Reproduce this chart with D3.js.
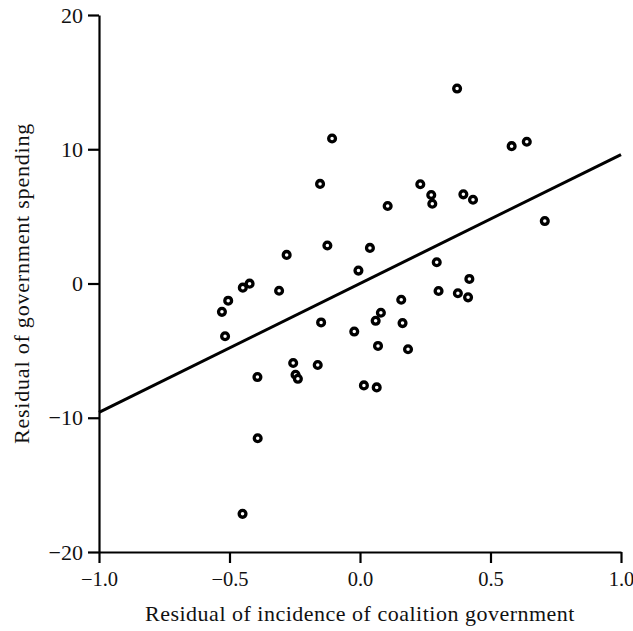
<!DOCTYPE html>
<html>
<head>
<meta charset="utf-8">
<script src="https://cdn.jsdelivr.net/npm/d3@7"></script>
<style>
  body { margin: 0; background: #fff; }
  .axis path, .axis line { stroke: #000; stroke-width: 2.2px; }
  .axis text { font-family: "Liberation Serif", "DejaVu Serif", serif; font-size: 22px; fill: #111; }
  .xAxis text { font-size: 20.5px; }
  .label { font-family: "Liberation Serif", "DejaVu Serif", serif; font-size: 22px; fill: #111; }
</style>
</head>
<body>
<div id="chart"></div>
<script>
// residual of incidence of coalition government
var xValues = [0.372, 0.581, 0.639, 0.231, 0.273, 0.277, 0.396, 0.433, 0.106, 0.708,
               0.038, -0.006, 0.294, 0.419, 0.301, 0.375, 0.414, 0.158, -0.125, -0.281,
               -0.449, -0.423, -0.310, -0.505, -0.529, -0.517, 0.080, 0.060, 0.163, -0.149,
               -0.022, 0.069, 0.184, -0.256, -0.162, -0.393, -0.247, -0.238, 0.015, 0.064,
               -0.392, -0.450, -0.107, -0.153];
// residual of government spending
var yValues = [14.52, 10.23, 10.56, 7.39, 6.59, 5.94, 6.64, 6.24, 5.77, 4.65,
               2.65, 0.96, 1.58, 0.34, -0.56, -0.73, -1.03, -1.21, 2.83, 2.13,
               -0.31, -0.01, -0.54, -1.28, -2.11, -3.93, -2.18, -2.78, -2.95, -2.90,
               -3.58, -4.65, -4.90, -5.92, -6.07, -6.97, -6.80, -7.10, -7.59, -7.74,
               -11.53, -17.16, 10.80, 7.42];
// fitted line endpoints
var fitX = [-1.0, 1.0];
var fitY = [-9.6, 9.6];

var xTicks = [-1.0, -0.5, 0.0, 0.5, 1.0];
var yTicks = [-20, -10, 0, 10, 20];

var width = 633, height = 631;
var margin = {top: 15, right: 12, bottom: 79, left: 99};
var graphWidth = width - margin.left - margin.right;
var graphHeight = height - margin.top - margin.bottom;

var data = xValues.map(function(d, i) { return {x: d, y: yValues[i]}; });

var svg = d3.select("#chart")
  .append("svg")
  .attr("width", width)
  .attr("height", height)
  .append("g")
  .attr("transform", "translate(" + margin.left + "," + margin.top + ")");

var x = d3.scaleLinear().domain([-1, 1]).range([0, graphWidth]);
var y = d3.scaleLinear().domain([-20, 20]).range([graphHeight, 0]);

function minus(s) { return s.replace("-", "\u2212"); }

// x axis
svg.append("g")
  .attr("class", "xAxis axis")
  .attr("transform", "translate(0," + graphHeight + ")")
  .call(d3.axisBottom(x)
    .tickValues(xTicks)
    .tickSize(11)
    .tickSizeOuter(0)
    .tickPadding(8)
    .tickFormat(function(d) { return minus(d3.format(".1f")(d)); }));

// y axis
svg.append("g")
  .attr("class", "yAxis axis")
  .call(d3.axisLeft(y)
    .tickValues(yTicks)
    .tickSize(11)
    .tickSizeOuter(0)
    .tickPadding(5)
    .tickFormat(function(d) { return minus(String(d)); }));

// fitted line
svg.append("line")
  .attr("x1", x(fitX[0]))
  .attr("y1", y(fitY[0]))
  .attr("x2", x(fitX[1]))
  .attr("y2", y(fitY[1]))
  .attr("stroke", "#000")
  .attr("stroke-width", 3);

// points
svg.selectAll(".dot")
  .data(data)
  .enter()
  .append("circle")
  .attr("class", "dot")
  .attr("r", 3.4)
  .attr("cx", d => x(d.x))
  .attr("cy", d => y(d.y))
  .attr("fill", "#fff")
  .attr("stroke", "#000")
  .attr("stroke-width", 3.3);

// axis titles
svg.append("text")
  .attr("class", "label")
  .attr("x", graphWidth / 2)
  .attr("y", graphHeight + 69)
  .style("text-anchor", "middle")
  .style("letter-spacing", "0.5px")
  .text("Residual of incidence of coalition government");

svg.append("text")
  .attr("class", "label")
  .attr("transform", "rotate(-90)")
  .attr("x", -y(0))
  .attr("y", -70)
  .style("text-anchor", "middle")
  .style("letter-spacing", "0.8px")
  .text("Residual of government spending");
</script>
</body>
</html>
